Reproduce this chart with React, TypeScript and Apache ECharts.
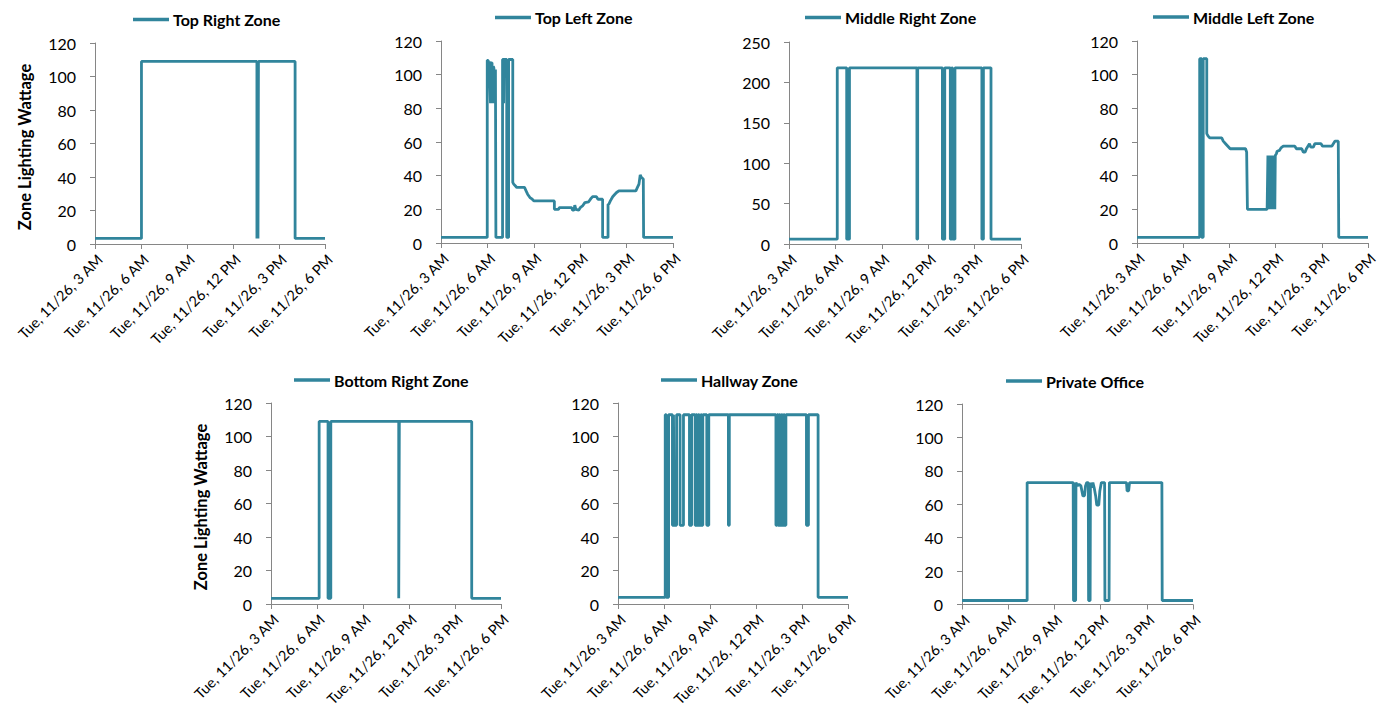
import React, { useEffect, useRef } from "react";
import * as echarts from "echarts";

// ---------- DATA ----------
const zoneNames = [
  "Top Right Zone",
  "Top Left Zone",
  "Middle Right Zone",
  "Middle Left Zone",
  "Bottom Right Zone",
  "Hallway Zone",
  "Private Office",
];

const xTickHours = [3, 6, 9, 12, 15, 18];
const xTickLabels = [
  "Tue, 11/26, 3 AM",
  "Tue, 11/26, 6 AM",
  "Tue, 11/26, 9 AM",
  "Tue, 11/26, 12 PM",
  "Tue, 11/26, 3 PM",
  "Tue, 11/26, 6 PM",
];
const yAxisTitle = "Zone Lighting Wattage";
const yMaxes = [120, 120, 250, 120, 120, 120, 120];
const yIntervals = [20, 20, 50, 20, 20, 20, 20];

// hour of day (decimal) and watts
const topRightT = [3, 6.03, 6.03, 13.56, 13.56, 13.6, 13.6, 13.63, 13.63, 13.66, 13.66, 16.05, 16.05, 18];
const topRightV = [3.3, 3.3, 109, 109, 3.3, 3.3, 109, 109, 3.3, 3.3, 109, 109, 3.3, 3.3];

const topLeftT = [3, 5.99, 5.99, 6.05, 6.08, 6.12, 6.15, 6.2, 6.22, 6.3, 6.33, 6.38, 6.42, 6.45, 6.48, 6.52, 6.55, 6.98, 6.98, 7.03, 7.05, 7.08, 7.25, 7.25, 7.37, 7.37, 7.64, 7.64, 7.7, 7.8, 7.9, 8.4, 8.5, 8.6, 8.75, 8.9, 9.0, 10.33, 10.33, 10.6, 10.65, 11.45, 11.5, 11.6, 11.65, 11.72, 11.9, 12.0, 12.15, 12.3, 12.55, 12.7, 12.8, 13.05, 13.15, 13.45, 13.45, 13.8, 13.8, 13.85, 13.95, 14.1, 14.2, 14.35, 14.5, 15.6, 15.7, 15.8, 15.88, 15.95, 16.08, 16.1, 18];
const topLeftV = [3.3, 3.3, 108.5, 108.5, 104, 108, 100, 83, 107, 107, 83, 105, 104, 83, 100, 103, 3.3, 3.3, 109, 109, 83, 109, 109, 3.3, 3.3, 109, 109, 36, 35, 34, 33, 33, 31, 29, 27, 26, 25, 25, 20, 20, 21, 21, 19.5, 19.5, 22.5, 20, 19.5, 21, 22, 24, 24.5, 26.5, 27.5, 27.5, 26, 26, 3.3, 3.3, 23, 23, 25, 27.5, 28.5, 30, 31, 31, 33, 35, 40.5, 39, 38, 3.3, 3.3];

const middleRightT = [3, 6.12, 6.12, 6.73, 6.73, 6.91, 6.91, 11.27, 11.27, 11.32, 11.32, 12.92, 12.92, 13.07, 13.07, 13.43, 13.43, 13.52, 13.52, 13.57, 13.57, 13.73, 13.73, 15.47, 15.47, 15.57, 15.57, 16.06, 16.06, 18];
const middleRightV = [6, 6, 218, 218, 6, 6, 218, 218, 6, 6, 218, 218, 6, 6, 218, 218, 6, 6, 218, 218, 6, 6, 218, 218, 6, 6, 218, 218, 6, 6];

const middleLeftT = [3, 7.07, 7.07, 7.2, 7.2, 7.3, 7.3, 7.53, 7.53, 7.62, 7.72, 8.5, 8.6, 8.75, 8.9, 9.05, 10.05, 10.12, 10.17, 11.45, 11.5, 11.52, 11.55, 11.58, 11.62, 11.65, 11.68, 11.72, 11.75, 11.78, 11.82, 11.85, 11.9, 11.95, 11.98, 12.05, 12.1, 12.25, 12.35, 12.5, 13.25, 13.35, 13.7, 13.8, 13.92, 14.0, 14.1, 14.2, 14.28, 14.45, 14.55, 14.95, 15.05, 15.65, 15.75, 15.85, 16.07, 16.1, 18];
const middleLeftV = [3.4, 3.4, 109.5, 109.5, 3.4, 3.4, 109.5, 109.5, 65, 63.5, 62.5, 62.5, 60.5, 59, 57.5, 56, 56, 54, 20, 20, 52, 20, 52, 20, 52, 20, 52, 20, 52, 20, 52, 20, 52, 20, 52, 53, 54.5, 55, 56.5, 57.5, 57.5, 56, 56, 54, 54, 56, 57.5, 59, 57, 57, 59, 59, 57.5, 57.5, 59, 60.5, 60.5, 3.4, 3.4];

const bottomRightT = [3, 6.14, 6.14, 6.72, 6.72, 6.9, 6.9, 11.33, 11.33, 11.37, 11.37, 16.09, 16.09, 18];
const bottomRightV = [3.4, 3.4, 109, 109, 3.4, 3.4, 109, 109, 3.4, 3.4, 109, 109, 3.4, 3.4];

const hallwayT = [3, 6.08, 6.08, 6.15, 6.15, 6.3, 6.3, 6.55, 6.55, 6.62, 6.62, 6.66, 6.66, 6.82, 6.82, 7.05, 7.05, 7.27, 7.27, 7.66, 7.66, 7.8, 7.8, 8.03, 8.03, 8.1, 8.1, 8.16, 8.16, 8.24, 8.24, 8.3, 8.3, 8.4, 8.4, 8.45, 8.45, 8.53, 8.53, 8.79, 8.79, 8.92, 8.92, 10.2, 10.2, 10.26, 10.26, 13.3, 13.3, 13.38, 13.38, 13.45, 13.45, 13.52, 13.52, 13.58, 13.58, 13.66, 13.66, 13.72, 13.72, 13.8, 13.8, 13.86, 13.86, 13.95, 13.95, 15.29, 15.29, 15.42, 15.42, 16.05, 16.05, 18];
const hallwayV = [4, 4, 113, 113, 4, 4, 113, 113, 47, 47, 113, 113, 47, 47, 113, 113, 47, 47, 113, 113, 47, 47, 113, 113, 47, 47, 113, 113, 47, 47, 113, 113, 47, 47, 113, 113, 47, 47, 113, 113, 47, 47, 113, 113, 47, 47, 113, 113, 47, 47, 113, 113, 47, 47, 113, 113, 47, 47, 113, 113, 47, 47, 113, 113, 47, 47, 113, 113, 47, 47, 113, 113, 4, 4];

const privateOfficeT = [3, 7.23, 7.23, 10.22, 10.24, 10.38, 10.4, 10.5, 10.6, 10.72, 10.85, 10.95, 11.02, 11.1, 11.2, 11.22, 11.32, 11.34, 11.42, 11.5, 11.58, 11.68, 11.75, 11.88, 11.95, 12.05, 12.26, 12.28, 12.55, 12.57, 13.68, 13.72, 13.82, 13.88, 15.98, 16.0, 18];
const privateOfficeV = [2.4, 2.4, 73, 73, 2.4, 2.4, 73, 71, 72, 71, 65, 65, 71, 73, 73, 2.4, 2.4, 73, 70, 73, 70, 65, 59.5, 59.5, 68, 73, 73, 2.4, 2.4, 73, 73, 68, 68, 73, 73, 2.4, 2.4];

const zoneTimes = [topRightT, topLeftT, middleRightT, middleLeftT, bottomRightT, hallwayT, privateOfficeT];
const zoneValues = [topRightV, topLeftV, middleRightV, middleLeftV, bottomRightV, hallwayV, privateOfficeV];

// ---------- LAYOUT ----------
const grids = [
  { left: 95, top: 43, width: 230, height: 201 },
  { left: 441, top: 41, width: 232, height: 202 },
  { left: 789, top: 42, width: 232, height: 202 },
  { left: 1137, top: 41, width: 231, height: 202 },
  { left: 271, top: 403, width: 230, height: 201 },
  { left: 618, top: 403, width: 230, height: 201 },
  { left: 962, top: 404, width: 231, height: 200.5 },
];
const legendPos = [
  { left: 133, y: 20.5 },
  { left: 495, y: 18.5 },
  { left: 805, y: 18.5 },
  { left: 1153, y: 18 },
  { left: 294, y: 381 },
  { left: 661, y: 381 },
  { left: 1006, y: 382 },
];

const LINE = "#31859C";
const AXIS = "#868686";
const TEXT = "#000000";
const FONT = "Lato, 'Open Sans', sans-serif";

export default function App() {
  const ref = useRef<HTMLDivElement>(null);
  useEffect(() => {
    if (!ref.current) return;
    const chart = echarts.init(ref.current, undefined, { renderer: "svg" });
    const fmt = (v: number) => {
      const i = xTickHours.indexOf(v);
      return i >= 0 ? xTickLabels[i] : "";
    };
    const option: any = {
      animation: false,
      backgroundColor: "#ffffff",
      textStyle: { fontFamily: FONT },
      grid: grids.map((g) => ({ ...g, containLabel: false, outerBoundsMode: "none" })),
      xAxis: grids.map((_, i) => ({
        type: "value",
        gridIndex: i,
        min: 3,
        max: 18,
        interval: 3,
        axisLine: { show: true, lineStyle: { color: AXIS, width: 1 } },
        axisTick: { show: true, length: 5, lineStyle: { color: AXIS } },
        splitLine: { show: false },
        axisLabel: {
          show: true,
          rotate: 45,
          margin: 8,
          verticalAlign: "top",
          lineHeight: 14,
          color: TEXT,
          fontFamily: FONT,
          fontSize: 14.5,
          formatter: fmt,
          showMinLabel: true,
          showMaxLabel: true,
        },
      })),
      yAxis: grids.map((_, i) => ({
        type: "value",
        gridIndex: i,
        min: 0,
        max: yMaxes[i],
        interval: yIntervals[i],
        name: i === 0 || i === 4 ? yAxisTitle : "",
        nameLocation: "middle",
        nameGap: 62,
        nameTextStyle: {
          fontFamily: FONT,
          fontWeight: "bold",
          fontSize: 16.5,
          color: TEXT,
          padding: [0, 7, 0, 0],
        },
        axisLine: { show: true, lineStyle: { color: AXIS, width: 1 } },
        axisTick: { show: true, length: 5, lineStyle: { color: AXIS } },
        splitLine: { show: false },
        axisLabel: { color: TEXT, fontFamily: FONT, fontSize: 16, margin: 19 },
      })),
      legend: zoneNames.map((n, i) => ({
        data: [n],
        left: legendPos[i].left,
        top: legendPos[i].y - 9,
        padding: 0,
        icon: "rect",
        itemWidth: 36,
        itemHeight: 3.5,
        itemGap: 4,
        selectedMode: false,
        textStyle: { fontFamily: FONT, fontWeight: "bold", fontSize: 16, color: TEXT, padding: [0, 0, 0, -1] },
      })),
      series: zoneNames.map((n, i) => ({
        type: "line",
        name: n,
        xAxisIndex: i,
        yAxisIndex: i,
        showSymbol: false,
        symbol: "none",
        lineStyle: { color: LINE, width: 2.8 },
        itemStyle: { color: LINE },
        data: zoneTimes[i].map((t, j) => [t, zoneValues[i][j]]),
      })),
    };
    chart.setOption(option);
    return () => chart.dispose();
  }, []);
  return (
    <div
      ref={ref}
      style={{ position: "absolute", left: 0, top: 0, width: 1379, height: 709, background: "#fff" }}
    />
  );
}
